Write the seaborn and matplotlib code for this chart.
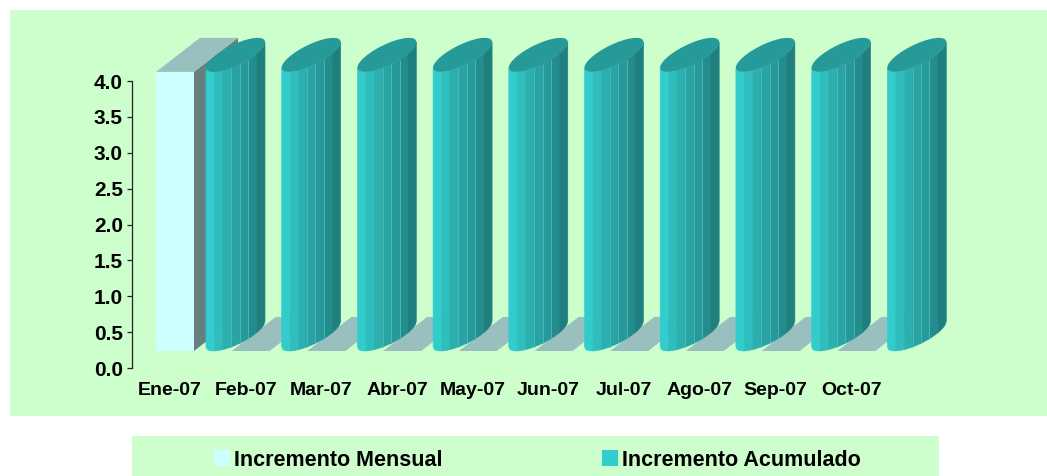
import numpy as np
import pandas as pd
import matplotlib
matplotlib.use("Agg")
import matplotlib.pyplot as plt
from matplotlib.patches import Polygon, Rectangle
import seaborn as sns

meses = ["Ene-07", "Feb-07", "Mar-07", "Abr-07", "May-07", "Jun-07", "Jul-07", "Ago-07", "Sep-07", "Oct-07"]
mensual = [3.89, 0, 0, 0, 0, 0, 0, 0, 0, 0]
acumulado = [3.89, 3.89, 3.89, 3.89, 3.89, 3.89, 3.89, 3.89, 3.89, 3.89]
y_ticks = [0.0, 0.5, 1.0, 1.5, 2.0, 2.5, 3.0, 3.5, 4.0]
serie_1 = "Incremento Mensual"
serie_2 = "Incremento Acumulado"

W, H = 1047, 476
PX_X = 75.7   # px per category
PX_Y = 71.7   # px per y unit
GREEN = "#CCFFCC"
BASE = 17 / PX_Y  # the 3d floor sits above the zero of the axis
DX, DY = 44 / PX_X, 34 / PX_Y


def frac(x0, y0, x1, y1):
    """pixel box (top-left origin) -> figure fractions"""
    return x0 / W, 1 - y1 / H, (x1 - x0) / W, (y1 - y0) / H


sns.set_theme(style="white")
plt.rcParams["font.family"] = ["Liberation Sans", "DejaVu Sans"]
plt.rcParams["font.weight"] = "bold"

fig = plt.figure(figsize=(W / 100, H / 100), dpi=100, facecolor="white")
for box in [(10, 10, W, 416), (132, 436, 939, 476)]:
    l, b, w, h = frac(*box)
    fig.add_artist(Rectangle((l, b), w, h, transform=fig.transFigure, fc=GREEN, ec="none", zorder=-5))

ax = fig.add_axes(frac(132, 81, 889, 368))
ax.patch.set_alpha(0)

df = pd.DataFrame({
    "mes": meses * 2,
    "valor": mensual + acumulado,
    "serie": [serie_1] * len(meses) + [serie_2] * len(meses),
})
sns.barplot(data=df, x="mes", y="valor", hue="serie", ax=ax, width=1.32, gap=0.24,
            palette={serie_1: "#CCFFFF", serie_2: "#33CCCC"},
            saturation=1, linewidth=0, zorder=3)

# mensual bars get a box look, the zero ones only show their floor
for bar in ax.containers[0]:
    bar.set_y(BASE)
    bar.set_clip_on(False)
    x0, y0 = bar.get_x(), bar.get_y()
    x1, y1 = x0 + bar.get_width(), y0 + bar.get_height()
    if bar.get_height() > 0:
        ax.add_patch(Polygon([(x1, y0), (x1 + DX, y0 + DY), (x1 + DX, y1 + DY), (x1, y1)],
                             fc="#668080", ec="none", zorder=3, clip_on=False))
    ax.add_patch(Polygon([(x0, y1), (x1, y1), (x1 + DX, y1 + DY), (x0 + DX, y1 + DY)],
                         fc="#99BFBF", ec="none", zorder=2 if bar.get_height() == 0 else 3, clip_on=False))

# acumulado bars are replaced by slanted cylinders built on the bar geometry
A = 29.5 / PX_X
B = 17 / PX_Y
cos_phi = 0.75
phi = np.arccos(cos_phi)
n_strips = 7
shades = sns.blend_palette(["#33CCCC", "#2DB5B5", "#29A3A3", "#259595", "#1F7F7F"], n_strips)
strip_x = np.linspace(-1, 1, n_strips + 1)


def ring(cx, cy, t):
    return cx + A * np.cos(t), cy + B * np.cos(t - phi)


for bar in ax.containers[1]:
    bar.set_visible(False)
    x0, hgt = bar.get_x(), bar.get_height()
    cx = x0 + A
    cy = BASE + hgt + B
    for k in range(n_strips):
        t = 2 * np.pi - np.arccos(np.linspace(strip_x[k], strip_x[k + 1], 8))
        xs, ys = ring(cx, cy, t)
        pts = list(zip(xs, ys)) + list(zip(xs[::-1], ys[::-1] - hgt))
        c = shades[k]
        ax.add_patch(Polygon(pts, fc=c, ec=c, lw=0.4, zorder=4, clip_on=False))
        if k in (3, 4, 5):
            ax.plot([xs[0], xs[0]], [ys[0], ys[0] - hgt], color="#4DBDBD", lw=0.6, zorder=4, clip_on=False)
    t = np.linspace(0, 2 * np.pi, 80)
    xs, ys = ring(cx, cy, t)
    ax.add_patch(Polygon(list(zip(xs, ys)), fc="#269999", ec="none", zorder=5, clip_on=False))

bar_mid = (200 - 132) / PX_X
ax.set_xlim(-bar_mid, len(meses) - bar_mid)
ax.set_ylim(0, 4)
ax.set_xticks([i - 30 / PX_X for i in range(len(meses))], meses)
ax.set_yticks(y_ticks, ["%.1f" % v for v in y_ticks])
ax.set_xlabel("")
ax.set_ylabel("")
ax.tick_params(axis="x", length=0, pad=10, labelsize=14, labelcolor="black")
ax.tick_params(axis="y", left=True, length=3.6, width=0.9, color="#222222", pad=3, labelsize=15, labelcolor="black")
sns.despine(ax=ax, bottom=True)
ax.spines["left"].set_color("#222222")
ax.spines["left"].set_linewidth(0.9)

handles, labels = ax.get_legend_handles_labels()
ax.legend_.remove()
fig.legend(handles, labels, ncol=2, loc="center", bbox_to_anchor=(537.5 / W, 1 - 460 / H),
           frameon=False, borderpad=0, handlelength=0.75, handleheight=0.75,
           handletextpad=0.18, columnspacing=7.4, labelcolor="black",
           prop={"weight": "bold", "size": 15.5})

fig.savefig("out.png", dpi=100)
